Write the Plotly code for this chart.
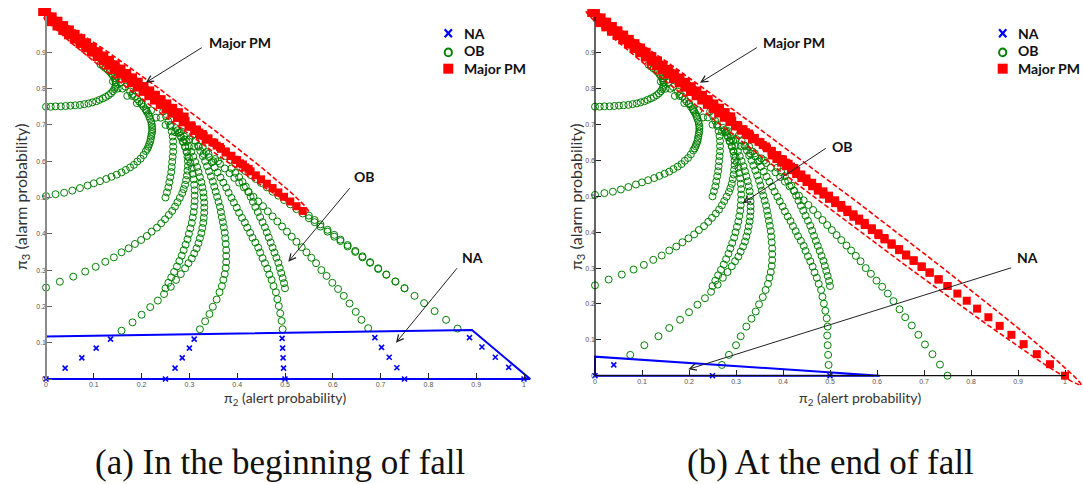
import numpy as np
import plotly.graph_objects as go

W, H = 1083, 484

# ---------------------------------------------------------------
# Belief trajectories in the (pi2, pi3) plane, one list per start
# point; pi2 = alert probability, pi3 = alarm probability
# ---------------------------------------------------------------
from_0_0 = [(0.000, 0.000), (0.040, 0.030), (0.075, 0.058), (0.105, 0.085), (0.135, 0.110),
            (0.158, 0.133), (0.181, 0.156), (0.200, 0.177), (0.218, 0.198), (0.234, 0.216),
            (0.247, 0.234), (0.261, 0.254), (0.272, 0.273), (0.282, 0.289), (0.291, 0.305),
            (0.298, 0.319), (0.305, 0.332), (0.310, 0.346), (0.315, 0.360), (0.319, 0.374),
            (0.322, 0.388), (0.325, 0.402), (0.327, 0.416), (0.329, 0.430), (0.330, 0.444),
            (0.331, 0.458), (0.331, 0.472), (0.331, 0.486), (0.330, 0.500), (0.329, 0.514),
            (0.327, 0.528), (0.325, 0.542), (0.322, 0.556), (0.319, 0.570), (0.316, 0.584),
            (0.312, 0.598), (0.308, 0.612), (0.304, 0.626), (0.299, 0.640), (0.294, 0.654),
            (0.289, 0.668), (0.283, 0.682)]
from_25_0 = [(0.250, 0.000), (0.270, 0.030), (0.285, 0.058), (0.300, 0.085), (0.310, 0.110),
             (0.322, 0.137), (0.333, 0.159), (0.342, 0.179), (0.349, 0.199), (0.357, 0.219),
             (0.363, 0.239), (0.368, 0.256), (0.371, 0.273), (0.374, 0.289), (0.376, 0.306),
             (0.377, 0.322), (0.377, 0.339), (0.377, 0.355), (0.376, 0.372), (0.375, 0.388),
             (0.374, 0.403), (0.372, 0.418), (0.370, 0.432), (0.368, 0.446), (0.366, 0.460),
             (0.364, 0.474), (0.361, 0.488), (0.358, 0.502), (0.355, 0.516), (0.352, 0.530),
             (0.349, 0.544), (0.345, 0.558), (0.341, 0.572), (0.337, 0.586), (0.333, 0.600),
             (0.328, 0.614), (0.323, 0.628), (0.318, 0.642), (0.312, 0.656), (0.306, 0.670)]
from_50_0 = [(0.500, 0.000), (0.497, 0.030), (0.496, 0.058), (0.495, 0.085), (0.494, 0.112),
             (0.495, 0.137), (0.493, 0.160), (0.490, 0.181), (0.487, 0.201), (0.484, 0.220),
             (0.481, 0.239), (0.476, 0.256), (0.472, 0.273), (0.467, 0.288), (0.463, 0.304),
             (0.458, 0.319), (0.453, 0.333), (0.448, 0.348), (0.444, 0.362), (0.438, 0.376),
             (0.432, 0.389), (0.427, 0.403), (0.421, 0.417), (0.416, 0.431), (0.410, 0.444),
             (0.404, 0.458), (0.399, 0.472), (0.393, 0.486), (0.388, 0.499), (0.382, 0.513),
             (0.377, 0.527), (0.371, 0.541), (0.365, 0.555), (0.359, 0.569), (0.353, 0.583),
             (0.347, 0.597), (0.341, 0.611), (0.335, 0.625), (0.328, 0.639)]
from_75_0 = [(0.750, 0.000), (0.734, 0.031), (0.718, 0.060), (0.702, 0.087), (0.688, 0.114),
             (0.674, 0.140), (0.660, 0.163), (0.648, 0.185), (0.635, 0.208), (0.623, 0.229),
             (0.611, 0.248), (0.599, 0.265), (0.587, 0.284), (0.576, 0.300), (0.565, 0.319),
             (0.555, 0.334), (0.545, 0.349), (0.535, 0.363), (0.524, 0.378), (0.514, 0.392),
             (0.504, 0.406), (0.494, 0.420), (0.484, 0.434), (0.474, 0.448), (0.464, 0.462),
             (0.454, 0.476), (0.444, 0.489), (0.434, 0.502), (0.424, 0.515), (0.414, 0.528),
             (0.404, 0.541), (0.394, 0.554), (0.384, 0.567), (0.374, 0.580), (0.364, 0.593),
             (0.354, 0.606)]
from_100_0 = [(1.000, 0.000), (0.968, 0.032), (0.940, 0.060), (0.912, 0.088), (0.886, 0.114),
              (0.861, 0.139), (0.837, 0.163), (0.813, 0.187), (0.791, 0.209), (0.771, 0.229),
              (0.750, 0.250), (0.731, 0.269), (0.712, 0.288), (0.695, 0.305), (0.678, 0.322),
              (0.662, 0.338), (0.647, 0.353), (0.631, 0.369), (0.616, 0.384), (0.603, 0.397),
              (0.589, 0.411), (0.574, 0.426), (0.562, 0.438), (0.550, 0.450), (0.537, 0.463),
              (0.524, 0.476), (0.511, 0.489), (0.498, 0.502), (0.486, 0.514), (0.474, 0.526),
              (0.462, 0.538), (0.450, 0.550), (0.439, 0.561), (0.428, 0.572), (0.417, 0.583),
              (0.406, 0.594), (0.396, 0.604), (0.386, 0.614), (0.376, 0.624), (0.366, 0.634),
              (0.357, 0.643), (0.348, 0.652), (0.339, 0.661), (0.330, 0.670), (0.321, 0.679),
              (0.313, 0.687), (0.305, 0.695)]
from_0_25 = [(0.000, 0.252), (0.029, 0.268), (0.057, 0.282), (0.082, 0.296), (0.104, 0.309),
             (0.124, 0.323), (0.142, 0.335), (0.158, 0.349), (0.173, 0.360), (0.186, 0.372),
             (0.199, 0.383), (0.211, 0.394), (0.221, 0.406), (0.232, 0.417), (0.241, 0.429),
             (0.249, 0.440), (0.257, 0.452), (0.264, 0.463), (0.270, 0.475), (0.275, 0.487),
             (0.280, 0.499), (0.285, 0.512), (0.288, 0.523), (0.291, 0.535), (0.293, 0.548),
             (0.295, 0.561), (0.296, 0.574), (0.297, 0.587), (0.297, 0.600), (0.296, 0.613),
             (0.294, 0.626), (0.291, 0.639), (0.287, 0.652), (0.283, 0.665), (0.278, 0.678),
             (0.272, 0.691)]
from_25_25 = [(0.250, 0.250), (0.256, 0.265), (0.262, 0.280), (0.268, 0.295), (0.274, 0.310),
              (0.279, 0.325), (0.284, 0.340), (0.288, 0.355), (0.292, 0.370), (0.296, 0.385),
              (0.299, 0.400), (0.302, 0.415), (0.305, 0.430), (0.307, 0.445), (0.309, 0.460),
              (0.310, 0.475), (0.311, 0.490), (0.311, 0.505), (0.311, 0.520), (0.310, 0.535),
              (0.309, 0.550), (0.307, 0.565), (0.305, 0.580), (0.302, 0.595), (0.299, 0.610),
              (0.295, 0.625), (0.291, 0.640), (0.286, 0.655), (0.281, 0.670), (0.275, 0.685)]
from_50_25 = [(0.500, 0.250), (0.498, 0.264), (0.495, 0.278), (0.492, 0.292), (0.489, 0.306),
              (0.486, 0.320), (0.482, 0.334), (0.478, 0.348), (0.474, 0.362), (0.470, 0.376),
              (0.466, 0.390), (0.462, 0.404), (0.458, 0.418), (0.453, 0.432), (0.448, 0.446),
              (0.443, 0.460), (0.438, 0.474), (0.433, 0.488), (0.428, 0.502), (0.423, 0.516),
              (0.418, 0.530), (0.411, 0.543), (0.404, 0.556), (0.396, 0.568), (0.388, 0.580)]
from_75_25 = [(0.750, 0.250), (0.731, 0.268), (0.712, 0.287), (0.695, 0.303), (0.678, 0.320),
              (0.662, 0.335), (0.647, 0.350), (0.631, 0.365), (0.616, 0.380), (0.603, 0.392),
              (0.589, 0.406), (0.574, 0.420), (0.562, 0.432), (0.550, 0.443), (0.537, 0.456),
              (0.524, 0.468), (0.511, 0.481), (0.498, 0.493), (0.486, 0.505), (0.474, 0.516),
              (0.462, 0.528), (0.450, 0.540), (0.439, 0.551), (0.428, 0.562), (0.417, 0.573),
              (0.406, 0.584), (0.396, 0.594), (0.386, 0.604), (0.376, 0.614)]
from_0_50 = [(0.000, 0.504), (0.020, 0.509), (0.038, 0.513), (0.055, 0.519), (0.071, 0.526),
             (0.087, 0.533), (0.100, 0.539), (0.113, 0.545), (0.126, 0.551), (0.137, 0.557),
             (0.148, 0.563), (0.158, 0.569), (0.167, 0.576), (0.176, 0.583), (0.184, 0.590),
             (0.191, 0.599), (0.198, 0.607), (0.204, 0.617), (0.209, 0.628), (0.212, 0.634),
             (0.214, 0.640), (0.216, 0.647), (0.218, 0.654), (0.219, 0.661), (0.220, 0.668),
             (0.221, 0.675), (0.222, 0.681), (0.222, 0.688), (0.222, 0.695), (0.221, 0.702),
             (0.220, 0.709), (0.218, 0.716), (0.216, 0.723), (0.214, 0.730), (0.211, 0.736),
             (0.208, 0.743), (0.204, 0.750), (0.200, 0.757), (0.195, 0.764), (0.191, 0.771),
             (0.186, 0.778), (0.181, 0.785), (0.176, 0.792), (0.166, 0.805), (0.156, 0.817),
             (0.146, 0.828)]
from_25_50 = [(0.250, 0.500), (0.253, 0.514), (0.256, 0.528), (0.258, 0.542), (0.260, 0.556),
              (0.262, 0.570), (0.263, 0.584), (0.264, 0.598), (0.265, 0.612), (0.266, 0.626),
              (0.266, 0.640), (0.266, 0.654), (0.265, 0.668), (0.263, 0.682), (0.260, 0.696),
              (0.256, 0.710), (0.251, 0.724), (0.245, 0.737)]
from_0_75 = [(0.000, 0.750), (0.010, 0.750), (0.020, 0.751), (0.031, 0.751), (0.041, 0.752),
             (0.051, 0.753), (0.061, 0.754), (0.071, 0.755), (0.080, 0.757), (0.089, 0.759),
             (0.097, 0.762), (0.105, 0.765), (0.112, 0.769), (0.119, 0.773), (0.125, 0.777),
             (0.131, 0.782), (0.136, 0.787), (0.140, 0.793), (0.143, 0.799), (0.145, 0.805),
             (0.146, 0.811), (0.146, 0.817), (0.145, 0.823), (0.143, 0.829), (0.140, 0.835),
             (0.137, 0.841), (0.133, 0.847), (0.129, 0.852), (0.124, 0.857), (0.119, 0.862),
             (0.114, 0.867)]

# OB beliefs crowding just under the settled band
ob_band_edge = [(0.140, 0.820), (0.150, 0.800), (0.160, 0.800), (0.170, 0.780), (0.180, 0.780),
                (0.190, 0.760), (0.200, 0.760), (0.210, 0.740), (0.220, 0.740), (0.230, 0.720),
                (0.240, 0.720), (0.250, 0.700), (0.260, 0.700), (0.270, 0.680), (0.280, 0.680),
                (0.290, 0.660), (0.300, 0.660), (0.310, 0.640), (0.320, 0.640), (0.330, 0.620),
                (0.340, 0.620), (0.350, 0.600), (0.360, 0.600)]

# Settled Major PM beliefs along the pi2 + pi3 = 1 edge (three rows of the band)
band_upper = [(0.002, 1.011), (0.014, 0.999), (0.026, 0.987), (0.038, 0.975), (0.050, 0.963),
              (0.062, 0.951), (0.074, 0.939), (0.086, 0.927), (0.098, 0.915), (0.110, 0.903),
              (0.122, 0.891), (0.134, 0.879), (0.146, 0.867), (0.158, 0.855), (0.170, 0.843),
              (0.182, 0.831), (0.194, 0.819), (0.206, 0.807), (0.218, 0.795), (0.230, 0.783),
              (0.242, 0.771), (0.254, 0.759), (0.266, 0.747), (0.278, 0.735), (0.290, 0.723)]
band_middle = [(-0.008, 1.011), (0.004, 0.999), (0.016, 0.987), (0.028, 0.975), (0.040, 0.963),
               (0.052, 0.951), (0.064, 0.939), (0.076, 0.927), (0.088, 0.915), (0.100, 0.903),
               (0.112, 0.891), (0.124, 0.879), (0.136, 0.867), (0.148, 0.855), (0.160, 0.843),
               (0.172, 0.831), (0.184, 0.819), (0.196, 0.807), (0.208, 0.795), (0.220, 0.783),
               (0.232, 0.771), (0.244, 0.759), (0.256, 0.747), (0.268, 0.735), (0.280, 0.723),
               (0.292, 0.711), (0.304, 0.699), (0.316, 0.687), (0.328, 0.675), (0.340, 0.663),
               (0.352, 0.651), (0.364, 0.639), (0.376, 0.627), (0.388, 0.615), (0.400, 0.603),
               (0.412, 0.591), (0.424, 0.579)]
band_lower = [(0.010, 0.983), (0.022, 0.971), (0.034, 0.959), (0.046, 0.947), (0.058, 0.935),
              (0.070, 0.923), (0.082, 0.911), (0.094, 0.899), (0.106, 0.887), (0.118, 0.875),
              (0.130, 0.863), (0.142, 0.851), (0.154, 0.839), (0.166, 0.827), (0.178, 0.815),
              (0.190, 0.803), (0.202, 0.791), (0.214, 0.779), (0.226, 0.767), (0.238, 0.755),
              (0.250, 0.743), (0.262, 0.731), (0.274, 0.719), (0.286, 0.707), (0.298, 0.695),
              (0.310, 0.683), (0.322, 0.671), (0.334, 0.659)]

trajectories = [from_0_0, from_25_0, from_50_0, from_75_0, from_100_0, from_0_25,
                from_25_25, from_50_25, from_75_25, from_0_50, from_25_50, from_0_75]
# leading NA steps and first Major PM step of every trajectory, per panel
na_steps_a = [5, 5, 5, 5, 5, 0, 0, 0, 0, 0, 0, 0]
pm_from_a = [None, None, None, None, 24, None, None, None, None, None, None, None]
na_steps_b = [2, 1, 1, 0, 0, 0, 0, 0, 0, 0, 0, 0]
pm_from_b = [None, None, None, None, 0, None, None, None, 0, None, None, None]

# classification regions
na_region_a = [(0.0, 0.0), (0.0, 0.117), (0.891, 0.135), (1.013, 0.0), (0.0, 0.0)]
na_region_b = [(0.0, 0.0), (0.0, 0.053), (0.606, 0.0), (0.0, 0.0)]
pm_region_a = dict(tip1=(-0.0136, 1.0138), tip2=(0.5487, 0.4609), half_minor=(0.0119, 0.0210))
pm_region_b = dict(tip1=(-0.0191, 1.0176), tip2=(1.0340, -0.0260), half_minor=(0.0140, 0.0245))

GREEN, BLUE, RED = "#008000", "#0000ff", "#ff0000"


def classify(na_steps, pm_from):
    na, ob, pm = [], [], []
    for traj, n_na, k_pm in zip(trajectories, na_steps, pm_from):
        stop = len(traj) if k_pm is None else k_pm
        na += traj[:n_na]
        ob += traj[n_na:stop]
        pm += traj[stop:]
    ob += ob_band_edge
    pm += band_lower + band_middle + band_upper
    return na, ob, pm


def ellipse(region, n=240):
    (x1, y1), (x2, y2) = region["tip1"], region["tip2"]
    cx, cy = (x1 + x2) / 2, (y1 + y2) / 2
    ux, uy = (x2 - x1) / 2, (y2 - y1) / 2
    vx, vy = region["half_minor"]
    t = np.linspace(0, 2 * np.pi, n)
    return cx + ux * np.cos(t) + vx * np.sin(t), cy + uy * np.cos(t) + vy * np.sin(t)


fig = go.Figure()
panels = [("x", "y", na_steps_a, pm_from_a, na_region_a, pm_region_a),
          ("x2", "y2", na_steps_b, pm_from_b, na_region_b, pm_region_b)]
for xa, ya, na_steps, pm_from, na_region, pm_region in panels:
    na, ob, pm = classify(na_steps, pm_from)
    fig.add_trace(go.Scatter(x=[p[0] for p in ob], y=[p[1] for p in ob], mode="markers",
                             xaxis=xa, yaxis=ya, name="OB",
                             marker=dict(symbol="circle-open", size=7, color=GREEN,
                                         line=dict(width=1, color=GREEN))))
    fig.add_trace(go.Scatter(x=[p[0] for p in pm], y=[p[1] for p in pm], mode="markers",
                             xaxis=xa, yaxis=ya, name="Major PM",
                             marker=dict(symbol="square", size=8, color=RED,
                                         line=dict(width=0))))
    fig.add_trace(go.Scatter(x=[p[0] for p in na], y=[p[1] for p in na], mode="markers",
                             xaxis=xa, yaxis=ya, name="NA",
                             marker=dict(symbol="x-thin", size=5,
                                         line=dict(width=1.6, color=BLUE))))
    ex, ey = ellipse(pm_region)
    fig.add_trace(go.Scatter(x=ex, y=ey, mode="lines", xaxis=xa, yaxis=ya, hoverinfo="skip",
                             line=dict(color=RED, width=1.6, dash="5px,2.5px")))
    fig.add_trace(go.Scatter(x=[p[0] for p in na_region], y=[p[1] for p in na_region],
                             mode="lines", xaxis=xa, yaxis=ya, hoverinfo="skip",
                             line=dict(color=BLUE, width=2)))


def px(xp, yp):
    return xp / W, 1 - yp / H


tick_font = dict(family="Liberation Sans", size=7, color="#555555")
yticks = [i / 10 for i in range(10)]
xticks = [i / 10 for i in range(11)]
xtext = ["0"] + [f"{v:.1f}" for v in xticks[1:-1]] + ["1"]
ytext = ["0"] + [f"{v:.1f}" for v in yticks[1:]]

common_x = dict(showgrid=False, zeroline=False, showline=False, tickmode="array",
                tickvals=xticks, ticktext=xtext, ticks="inside", ticklen=6, tickwidth=1,
                tickfont=tick_font, anchor="free", fixedrange=True)
common_y = dict(showgrid=False, zeroline=False, showline=False, tickmode="array",
                tickvals=yticks, ticktext=ytext, ticks="inside", ticklen=5, tickwidth=1,
                tickfont=tick_font, anchor="free", fixedrange=True)

fig.update_layout(
    width=W, height=H, margin=dict(l=0, r=0, t=0, b=0),
    paper_bgcolor="white", plot_bgcolor="rgba(0,0,0,0)", showlegend=False,
    xaxis=dict(common_x, domain=[20 / W, 545 / W], range=[-0.05439, 1.04393],
               position=1 - 379 / H, tickcolor="#222222"),
    yaxis=dict(common_y, domain=[1 - 395 / H, 1 - 5 / H], range=[-0.04408, 1.03030],
               position=46 / W, tickcolor="#666666"),
    xaxis2=dict(common_x, domain=[560 / W, 1.0], range=[-0.07447, 1.03830],
                position=1 - 375.7 / H, tickcolor="#222222"),
    yaxis2=dict(common_y, domain=[1 - 395 / H, 1 - 5 / H], range=[-0.05381, 1.03345],
                position=595 / W, tickcolor="#222222"),
)

shapes = [
    dict(type="line", xref="x", yref="y", x0=0, y0=0, x1=0, y1=1.0,
         line=dict(color="#8a8a8a", width=2)),
    dict(type="line", xref="x2", yref="y2", x0=0, y0=0, x1=0, y1=1.0,
         line=dict(color="#111111", width=1.3)),
    dict(type="line", xref="x2", yref="y2", x0=0, y0=0, x1=1.0, y1=0,
         line=dict(color="#111111", width=1.3)),
]

annotations = []
label_font = dict(family="Lato", size=14, color="#111111")


def note(text, cx, cy, font, angle=0, anchor="center"):
    xx, yy = px(cx, cy)
    annotations.append(dict(x=xx, y=yy, xref="paper", yref="paper", text=text,
                            showarrow=False, xanchor=anchor, yanchor="middle",
                            textangle=angle, font=font))


# legends
for x_mark, x_text in [(448.3, 461.7), (1002.7, 1016.0)]:
    rows = [33.3, 50.7, 68.7]
    # NA cross
    for (a, b), (c, d) in [((-3.6, -4.0), (3.6, 4.0)), ((-3.6, 4.0), (3.6, -4.0))]:
        p0, p1 = px(x_mark + a, rows[0] + b), px(x_mark + c, rows[0] + d)
        shapes.append(dict(type="line", xref="paper", yref="paper", x0=p0[0], y0=p0[1],
                           x1=p1[0], y1=p1[1], line=dict(color=BLUE, width=2.2)))
    # OB ring
    p0, p1 = px(x_mark - 3.6, rows[1] - 2.2), px(x_mark + 3.6, rows[1] + 5.6)
    shapes.append(dict(type="circle", xref="paper", yref="paper", x0=p0[0], y0=p0[1],
                       x1=p1[0], y1=p1[1], line=dict(color=GREEN, width=2)))
    # Major PM square
    p0, p1 = px(x_mark - 5, rows[2] - 5), px(x_mark + 5, rows[2] + 5)
    shapes.append(dict(type="rect", xref="paper", yref="paper", x0=p0[0], y0=p0[1],
                       x1=p1[0], y1=p1[1], fillcolor=RED, line=dict(width=0)))
    for label, yy in zip(["NA", "OB", "Major PM"], rows):
        note(f"<b>{label}</b>", x_text, yy, label_font, anchor="left")

# callout labels
for label, cx, cy in [("Major PM", 239.5, 42.7), ("OB", 364.0, 176.7), ("NA", 472.5, 257.3),
                      ("Major PM", 793.7, 42.7), ("OB", 842.5, 146.0), ("NA", 1027.5, 257.3)]:
    note(f"<b>{label}</b>", cx, cy, label_font)

# callout arrows: head in data coordinates, tail offset in pixels
for xr, yr, hx, hy, ax, ay in [("x", "y", 0.2086, 0.8163, 57.6, -36.0),
                               ("x", "y", 0.5069, 0.3231, 62.7, -75.0),
                               ("x", "y", 0.7322, 0.1000, 62.3, -76.0),
                               ("x2", "y2", 0.2234, 0.8168, 58.3, -36.0),
                               ("x2", "y2", 0.3143, 0.4806, 84.6, -56.0),
                               ("x2", "y2", 0.1985, 0.0178, 324.4, -102.0)]:
    annotations.append(dict(x=hx, y=hy, xref=xr, yref=yr, ax=ax, ay=ay, text="",
                            showarrow=True, arrowhead=5, arrowsize=1.3, arrowwidth=1,
                            arrowcolor="#222222"))

# axis titles
ytitle_font = dict(family="Lato", size=16, color="#333333")
xtitle_font = dict(family="Lato", size=14, color="#333333")
for cx in (22, 577):
    note("π<sub>3</sub> (alarm probability)", cx, 197, ytitle_font, angle=-90)
for cx in (285, 860):
    note("π<sub>2</sub> (alert probability)", cx, 398, xtitle_font)

# sub-figure captions
cap_font = dict(family="Liberation Serif", size=35, color="#111111")
note("(a) In the beginning of fall", 280, 462, cap_font)
note("(b) At the end of fall", 830.5, 462, cap_font)

fig.update_layout(shapes=shapes, annotations=annotations)
fig.write_html("out.html")
